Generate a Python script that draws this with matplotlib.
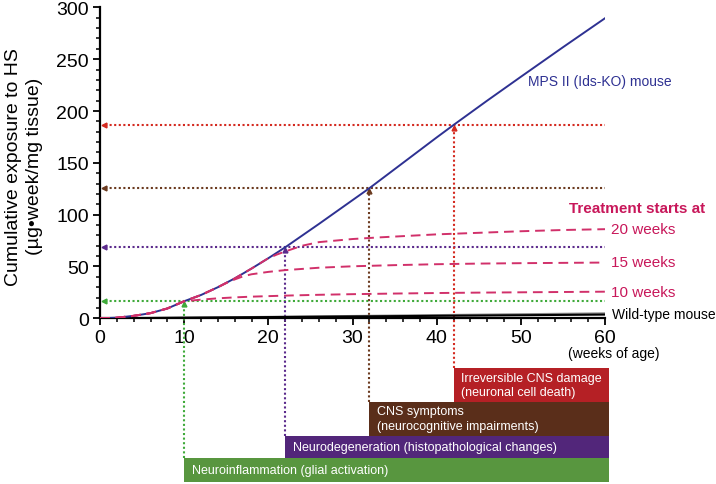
import numpy as np
import matplotlib.pyplot as plt
from matplotlib.ticker import MultipleLocator

plt.rcParams['font.family'] = ['Liberation Sans', 'DejaVu Sans']

# MPS II mouse, cumulative exposure to HS
weeks = [0, 2, 4, 6, 8, 10, 12, 14, 16, 18, 20, 22, 26, 30, 32, 36, 40, 42, 46, 50, 55, 60]
mps = [0, 0.6, 2.4, 5, 9.5, 16.5, 22.5, 30, 38.5, 48, 58, 68.5, 91, 114, 125.5, 150, 174.5, 186.5, 210, 233, 261.5, 289.5]

# wild-type mouse
wt_weeks = [0, 20, 40, 60]
wt = [0, 1.2, 2.4, 3.6]
wt2 = [0, 1.6, 3.3, 5.0]

# treatment curves (after treatment start)
treat_start = [10, 15, 20]
treat_labels = ['10 weeks', '15 weeks', '20 weeks']
treat_weeks = [
    [10, 12, 14, 16, 18, 20, 22, 26, 30, 35, 40, 45, 50, 55, 60],
    [15, 16, 17, 18, 20, 22, 26, 30, 35, 40, 45, 50, 55, 60],
    [20, 21, 22, 24, 26, 30, 33, 40, 45, 50, 55, 60],
]
treat_vals = [
    [16.5, 18, 19.3, 20.2, 20.9, 21.4, 21.9, 22.7, 23.3, 23.9, 24.4, 24.8, 25.1, 25.4, 25.7],
    [34, 37.5, 40.5, 42.5, 44.8, 46.5, 48.8, 50.2, 51.3, 52.2, 52.8, 53.2, 53.5, 53.8],
    [58, 61.5, 64.5, 70, 73.5, 76.5, 78, 81, 82.5, 84, 85.2, 86],
]

# disease milestones
onset_weeks = [10, 22, 32, 42]
onset_levels = [16.5, 68.5, 125.5, 186.5]
line_colors = ['#3faa3a', '#5b2a8c', '#6b3a1f', '#d42a20']
box_colors = ['#58963f', '#52267a', '#5a2e1a', '#b52025']
box_texts = ['Neuroinflammation (glial activation)',
             'Neurodegeneration (histopathological changes)',
             'CNS symptoms\n(neurocognitive impairments)',
             'Irreversible CNS damage\n(neuronal cell death)']
box_bottoms = [0, 24, 46.5, 80]
box_heights = [24, 22.5, 33.5, 34]

navy = '#2e3192'
pink = '#d1306a'

fig = plt.figure(figsize=(7.16, 4.85), dpi=100)
ax = fig.add_axes([0.1397, 0.3416, 0.7053, 0.6412])
bx = fig.add_axes([0.1397, 0.0041, 0.7053, 0.2351])

ax.set_xlim(0, 60)
ax.set_ylim(0, 300)
bx.set_xlim(0, 60)
bx.set_ylim(0, 114)
bx.axis('off')

for s in ['top', 'right']:
    ax.spines[s].set_visible(False)
for s in ['left', 'bottom']:
    ax.spines[s].set_linewidth(1.6)
ax.xaxis.set_major_locator(MultipleLocator(10))
ax.xaxis.set_minor_locator(MultipleLocator(2))
ax.yaxis.set_major_locator(MultipleLocator(50))
ax.yaxis.set_minor_locator(MultipleLocator(10))
ax.tick_params(which='major', direction='out', length=5, width=1.3, labelsize=14, pad=3)
ax.tick_params(which='minor', direction='out', length=3, width=1.1)

# boxes
for w, c, t, b, h in zip(onset_weeks, box_colors, box_texts, box_bottoms, box_heights):
    bx.add_patch(plt.Rectangle((w, b), 60.5 - w, h, facecolor=c, edgecolor='none', clip_on=False))
    bx.text(w + 0.9, b + h / 2, t, color='white', fontsize=9, va='center', ha='left',
            linespacing=1.3)

# dotted guide lines
for w, lev, c, b, h in zip(onset_weeks, onset_levels, line_colors, box_bottoms, box_heights):
    disp = bx.transData.transform((w, b + h))
    ybot = ax.transData.inverted().transform(disp)[1]
    ax.plot([0.6, 60], [lev, lev], ls=(0, (1, 1.2)), color=c, lw=1.5, clip_on=False, zorder=2)
    ax.plot([w, w], [ybot, lev - 2], ls=(0, (1, 1.2)), color=c, lw=1.5, clip_on=False, zorder=2)
    ax.plot([0.5], [lev], marker='<', ms=3.5, color=c, clip_on=False, zorder=3)
    ax.plot([w], [lev - 2.5], marker='^', ms=3.5, color=c, clip_on=False, zorder=3)

# curves
ax.plot(wt_weeks, wt2, color='#888888', lw=1.2, zorder=3)
ax.plot(wt_weeks, wt, color='black', lw=1.5, zorder=3)
ax.plot(weeks, mps, color=navy, lw=1.4, zorder=4)
for s, tw, tv in zip(treat_start, treat_weeks, treat_vals):
    pre_w = [w for w in weeks if w < s]
    pre_v = [v for w, v in zip(weeks, mps) if w < s]
    ax.plot(pre_w + tw, pre_v + tv, color=pink, lw=1.4, ls=(0, (5, 3)), zorder=5)

# labels
ax.text(50.9, 229, 'MPS II (Ids-KO) mouse', color=navy, fontsize=10, va='center', ha='left')
ax.text(71.9, 106.5, 'Treatment starts at', color='#c8175a', fontsize=11, fontweight='bold',
        va='center', ha='right', clip_on=False)
for lab, y in zip(treat_labels, [25.4, 53.9, 86.2]):
    ax.text(60.7, y, lab, color='#c8175a', fontsize=11, va='center', ha='left', clip_on=False)
ax.text(60.8, 4.2, 'Wild-type mouse', color='black', fontsize=10, va='center', ha='left', clip_on=False)
ax.text(55.6, -33, '(weeks of age)', fontsize=10, va='center', ha='left', clip_on=False)

fig.text(0.034, 0.656, 'Cumulative exposure to HS\n(µg•week/mg tissue)', rotation=90,
         fontsize=14, ha='center', va='center', linespacing=1.3)

fig.savefig('out.png', dpi=100)
